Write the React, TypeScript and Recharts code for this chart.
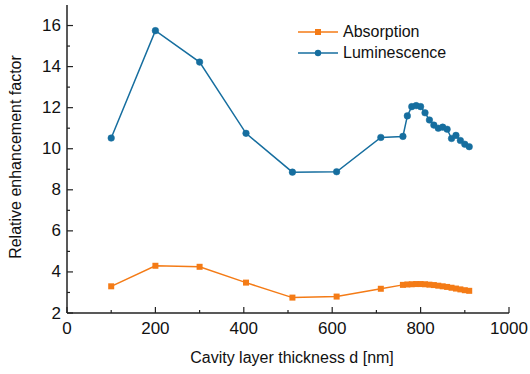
import { LineChart, Line, XAxis, YAxis, Legend } from 'recharts';

const thickness = [100, 200, 300, 405, 510, 610, 710, 760, 770, 780, 790, 800, 810, 820, 830, 840, 850, 860, 870, 880, 890, 900, 910];
const absorption = [3.3, 4.3, 4.25, 3.48, 2.75, 2.8, 3.18, 3.37, 3.39, 3.4, 3.41, 3.41, 3.4, 3.38, 3.36, 3.33, 3.3, 3.27, 3.23, 3.19, 3.15, 3.11, 3.08];
const luminescence = [10.52, 15.75, 14.22, 10.75, 8.86, 8.88, 10.55, 10.6, 11.6, 12.05, 12.1, 12.05, 11.75, 11.4, 11.15, 11.0, 11.05, 10.95, 10.5, 10.65, 10.4, 10.22, 10.1];
const xTicks = [0, 100, 200, 300, 400, 500, 600, 700, 800, 900, 1000];
const yTicks = [2, 3, 4, 5, 6, 7, 8, 9, 10, 11, 12, 13, 14, 15, 16];

const data = thickness.map((d, i) => ({ d, absorption: absorption[i], luminescence: luminescence[i] }));

const FONT = '"Liberation Sans", Arial, sans-serif';
const ORANGE = '#f47b16';
const BLUE = '#166e9f';
const AXIS = '#222';

const BottomTick = ({ x, y, payload }: any) => {
  const major = payload.value % 200 === 0;
  return (
    <g>
      <line x1={x} y1={y} x2={x} y2={y - (major ? 6 : 3)} stroke={AXIS} strokeWidth={1.2} />
      {major && (
        <text x={x} y={y + 15} textAnchor="middle" dominantBaseline="central" fontSize={17} fontFamily={FONT} fill="#111">
          {payload.value}
        </text>
      )}
    </g>
  );
};

const TopTick = ({ x, y, payload }: any) => {
  const major = payload.value % 200 === 0;
  return <line x1={x} y1={y} x2={x} y2={y + (major ? 6 : 3)} stroke={AXIS} strokeWidth={1.2} />;
};

const LeftTick = ({ x, y, payload }: any) => {
  const major = payload.value % 2 === 0;
  return (
    <g>
      <line x1={x} y1={y} x2={x + (major ? 6 : 3)} y2={y} stroke={AXIS} strokeWidth={1.2} />
      {major && (
        <text x={x - 6} y={y} textAnchor="end" dominantBaseline="central" fontSize={17} fontFamily={FONT} fill="#111">
          {payload.value}
        </text>
      )}
    </g>
  );
};

const RightTick = ({ x, y, payload }: any) => {
  const major = payload.value % 2 === 0;
  return <line x1={x} y1={y} x2={x - (major ? 6 : 3)} y2={y} stroke={AXIS} strokeWidth={1.2} />;
};

const SquareDot = (p: any) => {
  if (p.cx == null || p.cy == null) return null;
  return <rect key={p.key ?? p.index} x={p.cx - 3} y={p.cy - 3} width={6} height={6} fill={ORANGE} />;
};

// axis titles
const XTitle = () => (
  <text x={292} y={363} textAnchor="middle" fontSize={16} fontFamily={FONT} fill="#111">
    Cavity layer thickness d [nm]
  </text>
);

const YTitle = () => (
  <text x={21} y={157} transform="rotate(-90 21 157)" textAnchor="middle" fontSize={16} fontFamily={FONT} fill="#111">
    Relative enhancement factor
  </text>
);

const renderLegend = () => (
  <div style={{ fontFamily: FONT, fontSize: 16, color: '#111' }}>
    {[
      { name: 'Absorption', color: ORANGE, square: true },
      { name: 'Luminescence', color: BLUE, square: false },
    ].map((item) => (
      <div key={item.name} style={{ display: 'flex', alignItems: 'center', height: 21 }}>
        <svg width={40} height={12} style={{ marginRight: 5 }}>
          <line x1={0} y1={6} x2={40} y2={6} stroke={item.color} strokeWidth={1.5} />
          {item.square ? (
            <rect x={17} y={3} width={6} height={6} fill={item.color} />
          ) : (
            <circle cx={20} cy={6} r={3.2} fill={item.color} />
          )}
        </svg>
        <span>{item.name}</span>
      </div>
    ))}
  </div>
);

export default function App() {
  return (
    <div style={{ position: 'absolute', left: 0, top: 0, background: '#fff' }}>
      <LineChart width={530} height={374} data={data} margin={{ top: 5, right: 21, bottom: 1, left: 7 }}>
        <XAxis
          xAxisId="b"
          dataKey="d"
          type="number"
          domain={[0, 1000]}
          ticks={xTicks}
          interval={0}
          height={60}
          tickSize={0}
          tickMargin={0}
          tickLine={false}
          axisLine={{ stroke: AXIS, strokeWidth: 1.5 }}
          tick={BottomTick}
          label={XTitle}
        />
        <XAxis
          xAxisId="t"
          orientation="top"
          dataKey="d"
          type="number"
          domain={[0, 1000]}
          ticks={xTicks}
          interval={0}
          height={0}
          tickSize={0}
          tickMargin={0}
          tickLine={false}
          axisLine={{ stroke: AXIS, strokeWidth: 1.5 }}
          tick={TopTick}
        />
        <YAxis
          yAxisId="l"
          type="number"
          domain={[2, 17]}
          ticks={yTicks}
          interval={0}
          width={60}
          tickSize={0}
          tickMargin={0}
          tickLine={false}
          axisLine={{ stroke: AXIS, strokeWidth: 1.5 }}
          tick={LeftTick}
          label={YTitle}
        />
        <YAxis
          yAxisId="r"
          orientation="right"
          type="number"
          domain={[2, 17]}
          ticks={yTicks}
          interval={0}
          width={0}
          tickSize={0}
          tickMargin={0}
          tickLine={false}
          axisLine={{ stroke: AXIS, strokeWidth: 1.5 }}
          tick={RightTick}
        />
        <Legend
          layout="vertical"
          verticalAlign="middle"
          align="center"
          content={renderLegend}
          wrapperStyle={{ left: 298, top: 21, width: 'auto' }}
        />
        <Line
          xAxisId="b"
          yAxisId="l"
          dataKey="absorption"
          name="Absorption"
          stroke={ORANGE}
          strokeWidth={1.5}
          dot={SquareDot}
          isAnimationActive={false}
        />
        <Line
          xAxisId="b"
          yAxisId="l"
          dataKey="luminescence"
          name="Luminescence"
          stroke={BLUE}
          strokeWidth={1.5}
          dot={{ r: 3.3, fill: BLUE, stroke: BLUE, strokeWidth: 0.5 }}
          isAnimationActive={false}
        />
      </LineChart>
    </div>
  );
}
